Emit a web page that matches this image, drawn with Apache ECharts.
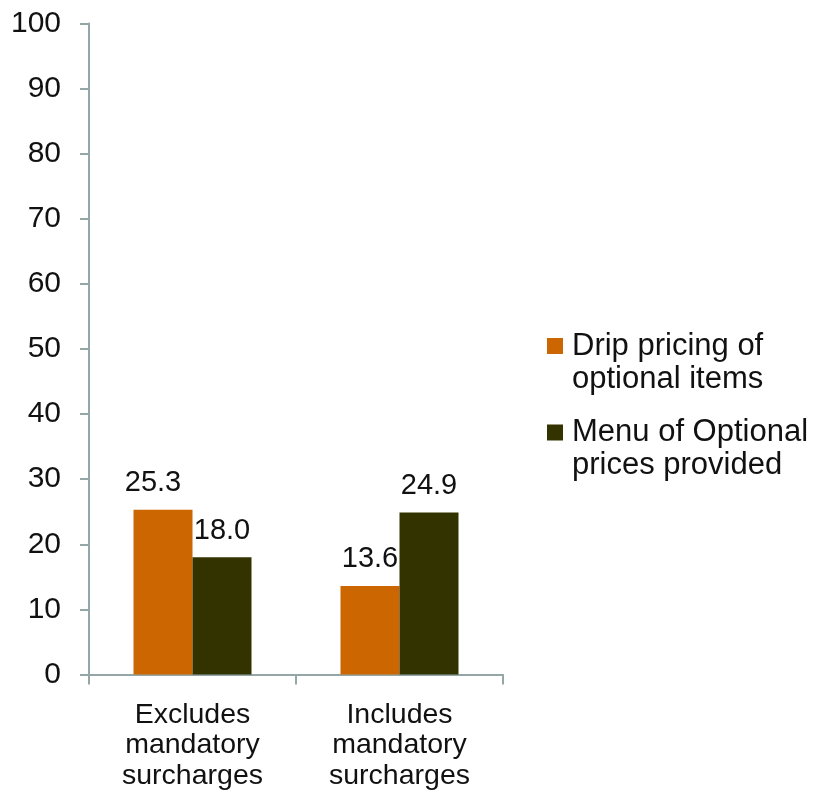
<!DOCTYPE html>
<html>
<head>
<meta charset="utf-8">
<script src="https://cdn.jsdelivr.net/npm/echarts@6/dist/echarts.min.js"></script>
<style>
  html, body { margin: 0; padding: 0; background: #ffffff; }
  #chart { width: 815px; height: 804px; }
</style>
</head>
<body>
<div id="chart"></div>
<script>
// Categories and values
const categories = ['Excludes\nmandatory\nsurcharges', 'Includes\nmandatory\nsurcharges'];
const seriesNames = ['Drip pricing of\noptional items', 'Menu of Optional\nprices provided'];
const dripValues = [25.3, 13.6];
const menuValues = [18.0, 24.9];
const yTicks = [0, 10, 20, 30, 40, 50, 60, 70, 80, 90, 100];

const colors = ['#CC6600', '#333300'];
const axisColor = '#95A6A6';
const textColor = '#111111';
const FONT = 'Liberation Sans, Arial, sans-serif';

const chart = echarts.init(document.getElementById('chart'), null, { renderer: 'canvas' });

function labelFor(seriesIdx) {
  return {
    show: true,
    position: 'top',
    distance: 12,
    color: textColor,
    fontFamily: FONT,
    fontSize: 29,
    formatter: p => p.value.toFixed(1)
  };
}

function buildData(values, seriesIdx) {
  return values.map((v, i) => {
    const item = { value: v };
    // first orange label sits left of its bar
    if (seriesIdx === 0 && i === 0) item.label = { offset: [-10, 0] };
    return item;
  });
}

chart.setOption({
  animation: false,
  backgroundColor: '#ffffff',
  textStyle: { fontFamily: FONT },
  grid: { left: 89, right: 312, top: 23.5, bottom: 129.5, containLabel: false },
  legend: {
    orient: 'vertical',
    left: 547,
    top: 296.5,
    padding: 0,
    itemWidth: 16,
    itemHeight: 16,
    itemGap: -12.5,
    icon: 'rect',
    selectedMode: false,
    // leading blank line keeps the swatch level with the first text line
    formatter: name => '\n' + name,
    textStyle: {
      color: textColor,
      fontFamily: FONT,
      fontSize: 31,
      lineHeight: 33,
      padding: [0, 0, 0, 4]
    },
    data: seriesNames
  },
  xAxis: {
    type: 'category',
    data: categories,
    axisLine: { show: true, lineStyle: { color: axisColor, width: 2 } },
    axisTick: { show: true, inside: false, length: 10, alignWithLabel: false, lineStyle: { color: axisColor, width: 2 } },
    axisLabel: {
      color: textColor,
      fontFamily: FONT,
      fontSize: 28.5,
      lineHeight: 30.5,
      margin: 25,
      interval: 0
    }
  },
  yAxis: {
    type: 'value',
    min: yTicks[0],
    max: yTicks[yTicks.length - 1],
    interval: 10,
    splitLine: { show: false },
    axisLine: { show: true, lineStyle: { color: axisColor, width: 2 } },
    axisTick: { show: true, length: 9, lineStyle: { color: axisColor, width: 2 } },
    axisLabel: {
      color: textColor,
      fontFamily: FONT,
      fontSize: 30,
      margin: 28
    }
  },
  series: [
    {
      name: seriesNames[0],
      type: 'bar',
      data: buildData(dripValues, 0),
      itemStyle: { color: colors[0] },
      barGap: '0%',
      barCategoryGap: '43%',
      label: labelFor(0)
    },
    {
      name: seriesNames[1],
      type: 'bar',
      data: buildData(menuValues, 1),
      itemStyle: { color: colors[1] },
      barGap: '0%',
      barCategoryGap: '43%',
      label: labelFor(1)
    }
  ]
});
</script>
</body>
</html>
